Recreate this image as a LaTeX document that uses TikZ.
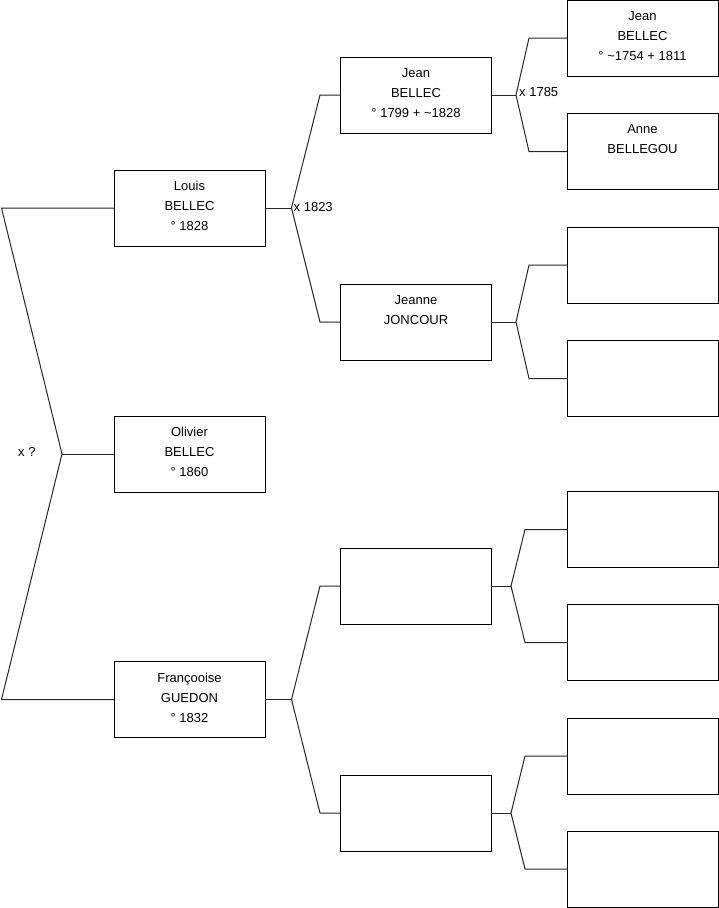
\documentclass[tikz,border=0pt]{standalone}
\usepackage{fontspec}
\setmainfont{Liberation Sans}
\begin{document}
\begin{tikzpicture}[x=1pt,y=-1pt,
  person/.style={draw=black,line width=1pt,minimum width=151pt,minimum height=76pt,inner sep=0pt,outer sep=0pt},
  ptext/.style={anchor=north,align=center,inner sep=0pt,font=\fontsize{13}{20}\selectfont},
  lab/.style={anchor=west,inner sep=0pt,font=\fontsize{13}{15}\selectfont},
  conn/.style={draw=black!85,line width=1pt}]
\useasboundingbox (0,0) rectangle (719,908);
% generation 1
\node[person] (louis) at (189.5,208) {};
\node[person] (olivier) at (189.5,454) {};
\node[person] (francoise) at (189.5,699.5) {};
% generation 2
\node[person] (jean2) at (416,95) {};
\node[person] (jeanne) at (416,322) {};
\node[person] (e21) at (416,586) {};
\node[person] (e22) at (416,813) {};
% generation 3
\node[person] (jean3) at (642.5,38) {};
\node[person] (anne) at (642.5,151.5) {};
\node[person] (e31) at (642.5,265) {};
\node[person] (e32) at (642.5,378.5) {};
\node[person] (e33) at (642.5,529.5) {};
\node[person] (e34) at (642.5,642.5) {};
\node[person] (e35) at (642.5,756) {};
\node[person] (e36) at (642.5,869) {};
% texts
\node[ptext] (tlouis) at ([yshift=-11.2pt]louis.north) {Louis\\BELLEC\\° 1828};
\node[ptext] (tolivier) at ([yshift=-11.2pt]olivier.north) {Olivier\\BELLEC\\° 1860};
\node[ptext] (tfran) at ([yshift=-11.2pt]francoise.north) {Françooise\\GUEDON\\° 1832};
\node[ptext] (tjean2) at ([yshift=-11.2pt]jean2.north) {Jean\\BELLEC\\° 1799 + \textasciitilde1828};
\node[ptext] (tjeanne) at ([yshift=-11.2pt]jeanne.north) {Jeanne\\JONCOUR};
\node[ptext] (tjean3) at ([yshift=-11.2pt]jean3.north) {Jean\\BELLEC\\° \textasciitilde1754 + 1811};
\node[ptext] (tanne) at ([yshift=-11.2pt]anne.north) {Anne\\BELLEGOU};
% fork coordinates
\coordinate (r1) at (1.5,208);
\coordinate (r2) at (1.5,699.5);
\coordinate (rv) at (62,454);
\coordinate (lv) at (291.5,208);
\coordinate (l1) at (320,95);
\coordinate (l2) at (320,322);
\coordinate (fv) at (291.5,699.5);
\coordinate (f1) at (320,586);
\coordinate (f2) at (320,813);
\coordinate (jv) at (516,95);
\coordinate (j1) at (529,38);
\coordinate (j2) at (529,151.5);
\coordinate (nv) at (516,322);
\coordinate (n1) at (529,265);
\coordinate (n2) at (529,378.5);
\coordinate (av) at (511,586);
\coordinate (a1) at (525,529.5);
\coordinate (a2) at (525,642.5);
\coordinate (bv) at (511,813);
\coordinate (b1) at (525,756);
\coordinate (b2) at (525,869);
% connectors
\draw[conn] (louis.west) -- (r1) -- (rv) -- (r2) -- (francoise.west);
\draw[conn] (rv) -- (olivier.west);
\draw[conn] (louis.east) -- (lv);
\draw[conn] (jean2.west) -- (l1) -- (lv) -- (l2) -- (jeanne.west);
\draw[conn] (francoise.east) -- (fv);
\draw[conn] (e21.west) -- (f1) -- (fv) -- (f2) -- (e22.west);
\draw[conn] (jean2.east) -- (jv);
\draw[conn] (jean3.west) -- (j1) -- (jv) -- (j2) -- (anne.west);
\draw[conn] (jeanne.east) -- (nv);
\draw[conn] (e31.west) -- (n1) -- (nv) -- (n2) -- (e32.west);
\draw[conn] (e21.east) -- (av);
\draw[conn] (e33.west) -- (a1) -- (av) -- (a2) -- (e34.west);
\draw[conn] (e22.east) -- (bv);
\draw[conn] (e35.west) -- (b1) -- (bv) -- (b2) -- (e36.west);
% marriage labels
\node[lab] (m0) at (18,452) {x ?};
\node[lab] (m1) at (293.5,207) {x 1823};
\node[lab] (m2) at (519,92) {x 1785};
\end{tikzpicture}
\end{document}
